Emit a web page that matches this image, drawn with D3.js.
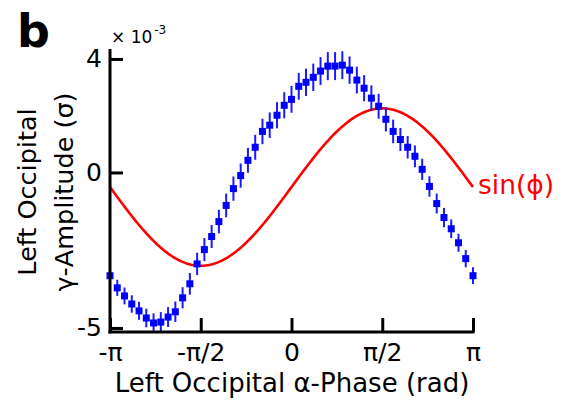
<!DOCTYPE html>
<html>
<head>
<meta charset="utf-8">
<script src="https://cdn.jsdelivr.net/npm/d3@7/dist/d3.min.js"></script>
<style>
  html, body { margin: 0; padding: 0; background: #fff; }
  svg { display: block; }
  text { font-family: "DejaVu Sans", sans-serif; }
</style>
</head>
<body>
<svg id="chart" width="565" height="404"></svg>
<script>
// Phase bins (rad): 51 centres spanning -π .. π
const phaseCount = 51;
// Mean γ-amplitude per phase bin (×10^-3 σ)
const amplitude = [
  -3.32, -3.71, -3.97, -4.23, -4.45, -4.68, -4.84, -4.81, -4.65, -4.48,
  -4.03, -3.58, -2.94, -2.48, -2.06, -1.58, -1.06, -0.52, -0.10,  0.39,
   0.81,  1.32,  1.52,  1.84,  2.16,  2.35,  2.77,  2.90,  3.06,  3.26,
   3.42,  3.42,  3.45,  3.29,  2.97,  2.71,  2.39,  2.13,  1.71,  1.32,
   1.06,  0.81,  0.52,  0.10, -0.45, -1.00, -1.45, -1.81, -2.26, -2.77,
  -3.32
];
// Standard error of each bin (×10^-3 σ)
const stdErr = [
  0.25, 0.26, 0.27, 0.28, 0.29, 0.30, 0.31, 0.32, 0.32, 0.33,
  0.34, 0.35, 0.36, 0.37, 0.37, 0.38, 0.38, 0.39, 0.39, 0.40,
  0.40, 0.41, 0.41, 0.42, 0.42, 0.43, 0.43, 0.44, 0.44, 0.45,
  0.45, 0.45, 0.45, 0.44, 0.43, 0.42, 0.41, 0.40, 0.39, 0.38,
  0.37, 0.36, 0.35, 0.34, 0.33, 0.32, 0.31, 0.30, 0.29, 0.28,
  0.27
];
// Reference sinusoid sin(ϕ), shown with its own offset and scale
const sineOffset = -0.47;
const sineScale = 2.53;

const xTickValues = [-Math.PI, -Math.PI / 2, 0, Math.PI / 2, Math.PI];
const xTickLabels = ["-π", "-π/2", "0", "π/2", "π"];
const yTickValues = [-5, 0, 3.65];
const yTickLabels = ["-5", "0", "4"];

const svg = d3.select("#chart");

const x = d3.scaleLinear().domain([-Math.PI, Math.PI]).range([110, 473]);
const y = d3.scaleLinear().domain([-5.13, 3.97]).range([332, 49]);

const phases = d3.range(phaseCount).map(i => -Math.PI + i * 2 * Math.PI / (phaseCount - 1));
const points = phases.map((p, i) => ({ p, v: amplitude[i], e: stdErr[i] }));

// sinusoid curve
const curvePhases = d3.range(0, 301).map(i => -Math.PI + i * 2 * Math.PI / 300);
const line = d3.line()
  .x(p => x(p))
  .y(p => y(sineOffset + sineScale * Math.sin(p)));
svg.append("path")
  .datum(curvePhases)
  .attr("d", line)
  .attr("fill", "none")
  .attr("stroke", "#ff0000")
  .attr("stroke-width", 2.6);

// error bars
svg.append("g").selectAll("line")
  .data(points)
  .join("line")
  .attr("x1", d => x(d.p)).attr("x2", d => x(d.p))
  .attr("y1", d => y(d.v - d.e)).attr("y2", d => y(d.v + d.e))
  .attr("stroke", "#1a1aff")
  .attr("stroke-width", 2);

// bin means
const ms = 7;
svg.append("g").selectAll("rect")
  .data(points)
  .join("rect")
  .attr("x", d => x(d.p) - ms / 2)
  .attr("y", d => y(d.v) - ms / 2)
  .attr("width", ms).attr("height", ms)
  .attr("fill", "#0000ff");

// axes
const xAxis = d3.axisBottom(x)
  .tickValues(xTickValues)
  .tickFormat((d, i) => xTickLabels[i])
  .tickSizeInner(-14).tickSizeOuter(0).tickPadding(11);
const yAxis = d3.axisLeft(y)
  .tickValues(yTickValues)
  .tickFormat((d, i) => yTickLabels[i])
  .tickSizeInner(-13).tickSizeOuter(0).tickPadding(8);

const gx = svg.append("g").attr("transform", "translate(0,332)").call(xAxis);
const gy = svg.append("g").attr("transform", "translate(110,0)").call(yAxis);

[gx, gy].forEach(g => {
  g.attr("font-family", "DejaVu Sans, sans-serif").attr("font-size", 25);
  g.select(".domain").attr("stroke", "#000").attr("stroke-width", 3);
  g.selectAll(".tick line").attr("stroke", "#000").attr("stroke-width", 3);
  g.selectAll(".tick text").attr("fill", "#000");
});
// extend the y axis line up past the top tick
gy.select(".domain").attr("d", `M0,${y.range()[1]}V${y.range()[0] + 1.5}`);
gx.select(".domain").attr("d", `M-1.5,0H${x.range()[1] - x.range()[0] + 1.5}`)
  .attr("transform", `translate(${x.range()[0]},0)`);

// exponent marker
const ex = svg.append("text").attr("x", 111).attr("y", 43).attr("font-size", 17).attr("fill", "#000");
ex.append("tspan").text("× 10");
ex.append("tspan").attr("font-size", 12).attr("dy", -9).attr("dx", 2).text("-3");

// axis titles
svg.append("text")
  .attr("x", 292).attr("y", 392)
  .attr("text-anchor", "middle").attr("font-size", 26).attr("fill", "#000")
  .text("Left Occipital α-Phase (rad)");

const yt = svg.append("g").attr("transform", "translate(0,192) rotate(-90)");
yt.append("text").attr("x", 0).attr("y", 36)
  .attr("text-anchor", "middle").attr("font-size", 25.5).attr("fill", "#000")
  .text("Left Occipital");
yt.append("text").attr("x", 0).attr("y", 73)
  .attr("text-anchor", "middle").attr("font-size", 25.5).attr("fill", "#000")
  .text("γ-Amplitude (σ)");

// curve label
svg.append("text")
  .attr("x", 478).attr("y", 194)
  .attr("font-size", 26.5).attr("fill", "#ff0000")
  .text("sin(ϕ)");

// panel letter
svg.append("text")
  .attr("x", 17).attr("y", 47)
  .attr("font-size", 46).attr("font-weight", "bold").attr("fill", "#000")
  .text("b");
</script>
</body>
</html>
